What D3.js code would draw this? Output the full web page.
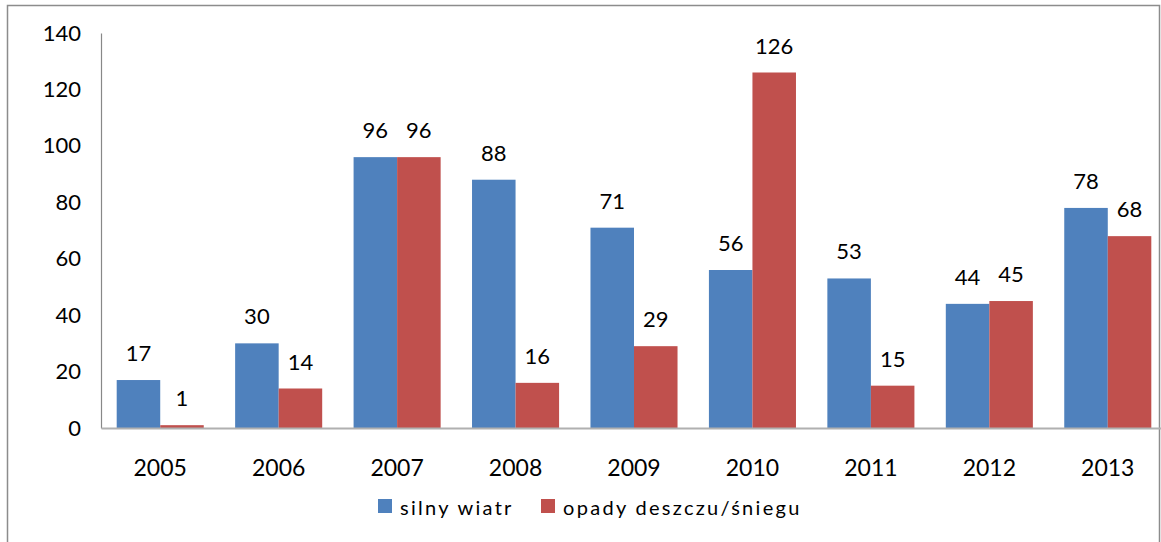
<html>
<head>
<meta charset="utf-8">
<script src="https://d3js.org/d3.v7.min.js"></script>
<style>
  body { margin: 0; background: #fff; }
  text { font-family: Lato, "Open Sans", sans-serif; fill: #000; }
</style>
</head>
<body>
<svg width="1161" height="542"></svg>
<script>
// data
var years = ['2005','2006','2007','2008','2009','2010','2011','2012','2013'];
var wind = [17, 30, 96, 88, 71, 56, 53, 44, 78];
var rain = [1, 14, 96, 16, 29, 126, 15, 45, 68];
var seriesNames = ['silny wiatr', 'opady deszczu/śniegu'];
var colors = ['#4F81BD', '#C0504D'];
var yTicks = [0, 20, 40, 60, 80, 100, 120, 140];

var svg = d3.select('svg');

// outer frame of the chart
svg.append('rect')
    .attr('x', 7.5).attr('y', 5.5)
    .attr('width', 1152).attr('height', 560)
    .attr('fill', 'none').attr('stroke', '#8c8c8c').attr('stroke-width', 1.5);

var x = d3.scaleBand().domain(years).range([101, 1167]).paddingInner(0.265).paddingOuter(0.1325);
var sub = d3.scaleBand().domain([0, 1]).range([0, x.bandwidth()]);
var y = d3.scaleLinear().domain([0, 140]).range([428, 33]);

var rows = years.map(function(yr, i) { return {year: yr, vals: [wind[i], rain[i]]}; });

var groups = svg.append('g').selectAll('g')
    .data(rows)
    .enter()
    .append('g')
    .attr('transform', function(d) { return 'translate(' + x(d.year) + ',0)'; });

groups.selectAll('rect')
    .data(function(d) { return d.vals; })
    .enter()
    .append('rect')
    .attr('x', function(d, j) { return sub(j); })
    .attr('y', function(d) { return y(d); })
    .attr('width', sub.bandwidth())
    .attr('height', function(d) { return y(0) - y(d); })
    .attr('fill', function(d, j) { return colors[j]; });

// value on top of bar
groups.selectAll('text.val')
    .data(function(d) { return d.vals; })
    .enter()
    .append('text')
    .attr('class', 'val')
    .attr('x', function(d, j) { return sub(j) + sub.bandwidth() / 2; })
    .attr('y', function(d) { return y(d) - 19; })
    .attr('text-anchor', 'middle')
    .style('font-size', '22px')
    .text(function(d) { return d; });

// y axis
var yAxis = svg.append('g')
    .attr('transform', 'translate(101,0)')
    .call(d3.axisLeft(y).tickValues(yTicks).tickSize(0).tickSizeOuter(0).tickPadding(20));
yAxis.select('.domain').attr('stroke', '#888').attr('stroke-width', 1.2);
yAxis.selectAll('text').style('font-size', '22px').style('font-family', 'Lato, sans-serif');

// x axis
var xAxis = svg.append('g')
    .attr('transform', 'translate(0,428)')
    .call(d3.axisBottom(x).tickSize(0).tickSizeOuter(0).tickPadding(32));
xAxis.select('.domain').attr('stroke', '#b0b0b0').attr('stroke-width', 2);
xAxis.selectAll('text').style('font-size', '23px').style('font-family', 'Lato, sans-serif');

// legend
var legend = svg.append('g');
var legendX = [378, 541];
seriesNames.forEach(function(name, i) {
    legend.append('rect')
        .attr('x', legendX[i]).attr('y', 499)
        .attr('width', 14).attr('height', 14)
        .attr('fill', colors[i]);
    legend.append('text')
        .attr('x', legendX[i] + 22).attr('y', 515)
        .style('font-size', '20px')
        .style('letter-spacing', '2.3px')
        .text(name);
});
</script>
</body>
</html>
